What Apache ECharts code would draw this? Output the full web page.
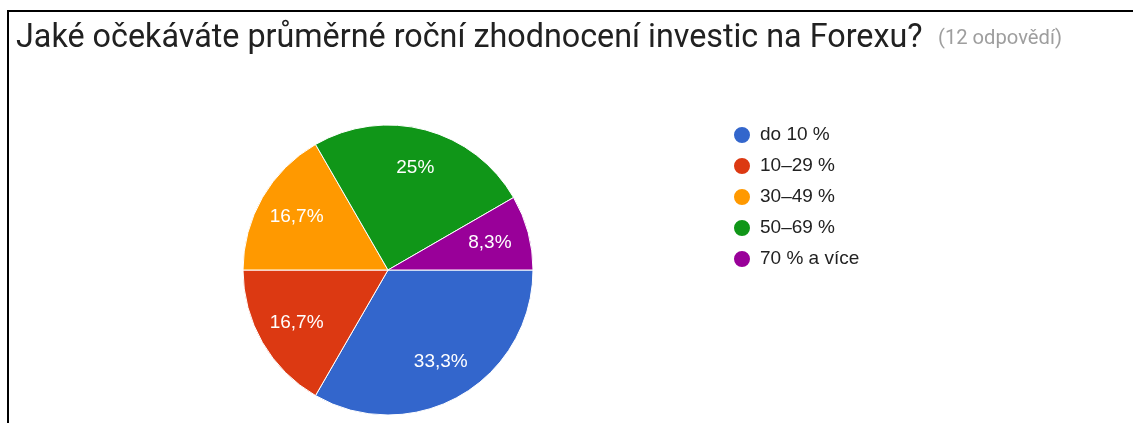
<!DOCTYPE html>
<html>
<head>
<meta charset="utf-8">
<script src="https://cdn.jsdelivr.net/npm/echarts@6/dist/echarts.min.js"></script>
<style>
html,body{margin:0;padding:0;background:#fff;}
#chart{width:1133px;height:423px;}
</style>
</head>
<body>
<div id="chart"></div>
<script>
const titleText = 'Jaké očekáváte průměrné roční zhodnocení investic na Forexu?';
const subText = '(12 odpovědí)';
const categories = ['do 10 %', '10–29 %', '30–49 %', '50–69 %', '70 % a více'];
const counts = [4, 2, 2, 3, 1];
const colors = ['#3366cc', '#dc3912', '#ff9900', '#109618', '#990099'];

const data = categories.map((c, i) => ({ name: c, value: counts[i], itemStyle: { color: colors[i] } }));
const labelData = categories.map((c, i) => ({ name: c, value: counts[i] }));

const chart = echarts.init(document.getElementById('chart'));
chart.setOption({
  animation: false,
  backgroundColor: '#fff',
  title: [{
    left: 11, top: 18,
    text: titleText,
    textStyle: { fontFamily: 'Roboto', fontSize: 32.3, color: '#212121', fontWeight: 'normal' }
  }, {
    left: 933, top: 24,
    text: subText,
    textStyle: { fontFamily: 'Roboto', fontSize: 20.2, color: '#9e9e9e', fontWeight: 'normal' }
  }],
  graphic: [{
    type: 'polyline',
    shape: { points: [[8, 423], [8, 11], [1133, 11]] },
    style: { stroke: '#000', lineWidth: 2, fill: null },
    silent: true
  }],
  legend: {
    orient: 'vertical',
    left: 727, top: 120,
    icon: 'circle',
    itemWidth: 18, itemHeight: 18,
    itemGap: 11,
    data: categories,
    textStyle: { fontFamily: 'Arial, Liberation Sans', fontSize: 19, color: '#222', padding: [0, 0, 0, 4] }
  },
  series: [{
    type: 'pie',
    center: [388, 270],
    radius: [0, 145],
    startAngle: 0,
    clockwise: true,
    data: data,
    label: { show: false },
    labelLine: { show: false },
    itemStyle: { borderColor: '#fff', borderWidth: 1 },
    emphasis: { disabled: true }
  }, {
    type: 'pie',
    center: [388, 270],
    radius: [60, 145],
    startAngle: 0,
    clockwise: true,
    silent: true,
    percentPrecision: 1,
    data: labelData,
    itemStyle: { color: 'rgba(0,0,0,0)' },
    label: {
      show: true, position: 'inside',
      fontFamily: 'Arial, Liberation Sans', fontSize: 19, color: '#fff',
      formatter: p => String(p.percent).replace('.', ',') + '%'
    },
    labelLine: { show: false },
    emphasis: { disabled: true }
  }]
});
</script>
</body>
</html>
